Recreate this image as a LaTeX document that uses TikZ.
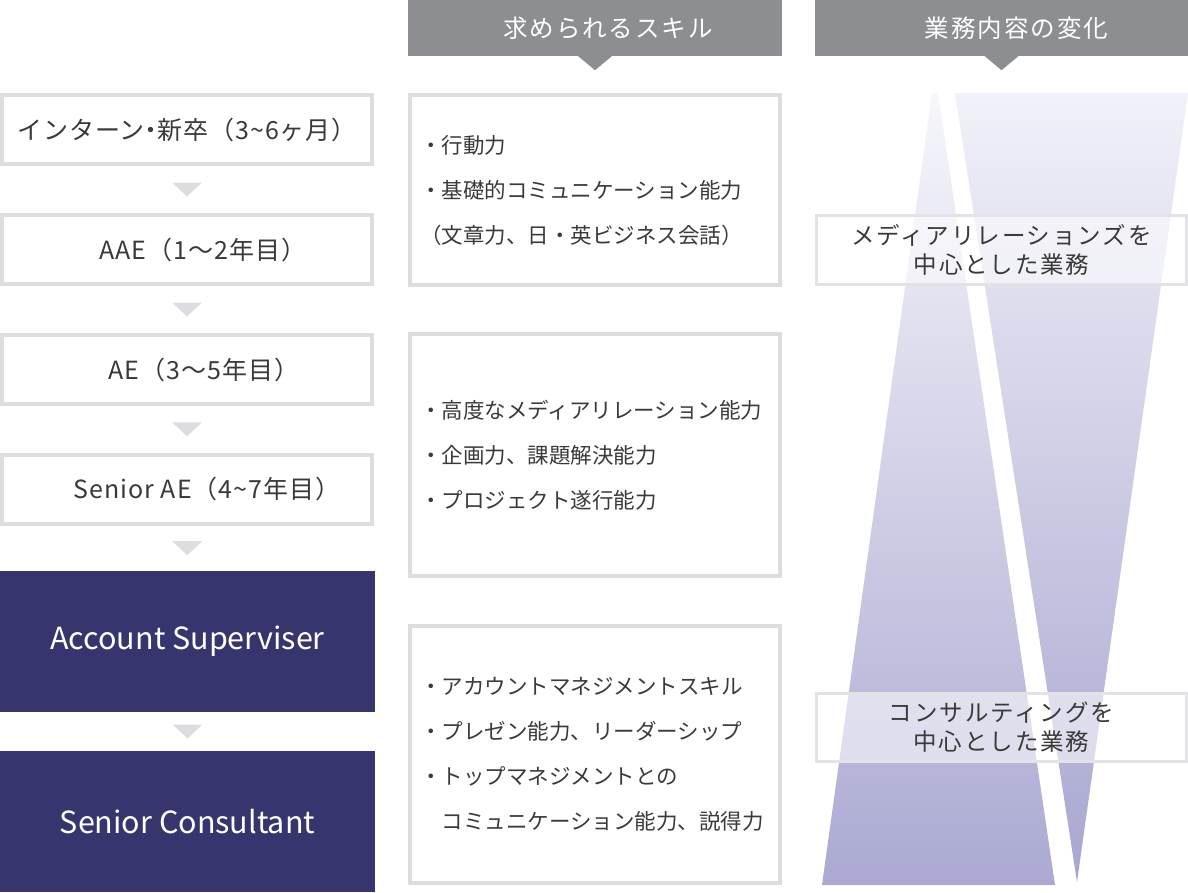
\documentclass[tikz,border=0pt]{standalone}
\usepackage{fontspec}
\setmainfont{Noto Sans CJK JP}
\newfontfamily\hdfont[LetterSpace=8]{Noto Sans CJK JP}
\newfontfamily\lfont[LetterSpace=4]{Noto Sans CJK JP}
\newfontfamily\lhfont[LetterSpace=4,RawFeature=+halt]{Noto Sans CJK JP}
\usetikzlibrary{calc}
\definecolor{bordergray}{HTML}{DCDDDF}
\definecolor{tri}{HTML}{DCDDE0}
\definecolor{headgray}{HTML}{8C8E91}
\definecolor{navy}{HTML}{37356E}
\definecolor{textgray}{HTML}{3A3A3A}
\definecolor{lavtopA}{HTML}{F6F6FB}
\definecolor{lavbotA}{HTML}{ABA9D2}
\definecolor{lavtopB}{HTML}{F1F1F9}
\definecolor{lavbotB}{HTML}{A8A6D0}
\definecolor{rborder}{HTML}{E3E3E7}
\begin{document}
\begin{tikzpicture}[x=1pt,y=-1pt,
  lbox/.style={draw=bordergray, line width=4pt, fill=white, minimum width=370pt,
    minimum height=69pt, inner sep=0pt, text=textgray, font=\lfont\fontsize{25}{28}\selectfont},
  dbox/.style={fill=navy, minimum width=375pt, minimum height=141pt, inner sep=0pt,
    text=white, font=\fontsize{30.5}{34}\selectfont},
  mbox/.style={draw=bordergray, line width=4pt, fill=white, minimum width=370pt, inner sep=0pt},
  mtext/.style={align=left, inner sep=0pt, text=textgray, font=\fontsize{21.5}{45}\selectfont},
  head/.style={fill=headgray, minimum height=56pt, inner sep=0pt, text=white,
    font=\hdfont\fontsize{24.5}{28}\selectfont},
  rbox/.style={draw=rborder, line width=3pt, fill=white, fill opacity=0.55, text opacity=1,
    minimum width=370pt, inner sep=0pt, align=center, text=textgray,
    font=\hdfont\fontsize{23.5}{29}\selectfont},
  arrowtri/.style={fill=tri}
]
\useasboundingbox (0,0) rectangle (1188,892);
\fill[white] (0,0) rectangle (1188,892);

% left column
\node[lbox] (b1) at (187,129.5) {インターン{\lhfont ・}新卒（3\char"7E 6ヶ月）};
\node[lbox] (b2) at (187,249.5) {\hspace*{32pt}AAE（1～2年目）};
\node[lbox] (b3) at (187,369.5) {\hspace*{34pt}AE（3～5年目）};
\node[lbox] (b4) at (187,489) {\hspace*{40pt}Senior AE（4\char"7E 7年目）};
\node[dbox] (b5) at (187.5,641.5) {Account Superviser};
\node[dbox] (b6) at (187.5,821.5) {Senior Consultant};

\foreach \a/\b in {b1/b2,b2/b3,b3/b4,b4/b5,b5/b6}{
  \coordinate (m) at ($(\a.south)!0.5!(\b.north)$);
  \fill[arrowtri] ($(m)+(-15,-7)$) -- ($(m)+(15,-7)$) -- ($(m)+(0,7)$) -- cycle;
}

% middle column
\node[head, minimum width=374pt] (h1) at (595,28) {\hspace*{26pt}求められるスキル};
\fill[headgray] ($(h1.south)+(-18,-1)$) -- ($(h1.south)+(18,-1)$) -- ($(h1.south)+(0,14)$) -- cycle;

\node[mbox, minimum height=190pt] (m1) at (595,190) {};
\node[mbox, minimum height=242pt] (m2) at (595,455) {};
\node[mbox, minimum height=257pt] (m3) at (595,754.5) {};

\node[mtext, anchor=west] (t1) at ([xshift=12pt]m1.west)
  {・行動力\\・基礎的コミュニケーション能力\\（文章力、日・英ビジネス会話）};
\node[mtext, anchor=west] (t2) at ([xshift=12pt]m2.west)
  {・高度なメディアリレーション能力\\・企画力、課題解決能力\\・プロジェクト遂行能力};
\node[mtext, anchor=west] (t3) at ([xshift=12pt]m3.west)
  {・アカウントマネジメントスキル\\・プレゼン能力、リーダーシップ\\・トップマネジメントとの\\\hspace*{21.5pt}コミュニケーション能力、説得力};

% right column
\node[head, minimum width=373pt] (h2) at (1001.5,28) {\hspace*{30pt}業務内容の変化};
\fill[headgray] ($(h2.south)+(-18,-1)$) -- ($(h2.south)+(18,-1)$) -- ($(h2.south)+(0,14)$) -- cycle;

\shade[top color=lavtopA, bottom color=lavbotA] (932,93) -- (938,93) -- (1055,885) -- (822,885) -- cycle;
\shade[top color=lavtopB, bottom color=lavbotB] (955,93) -- (1188,93) -- (1077,882) -- cycle;

\node[rbox, minimum height=69pt] (r1) at (1001.5,250) {メディアリレーションズを\\中心とした業務};
\node[rbox, minimum height=68pt] (r2) at (1001.5,727.5) {コンサルティングを\\中心とした業務};
\end{tikzpicture}
\end{document}
